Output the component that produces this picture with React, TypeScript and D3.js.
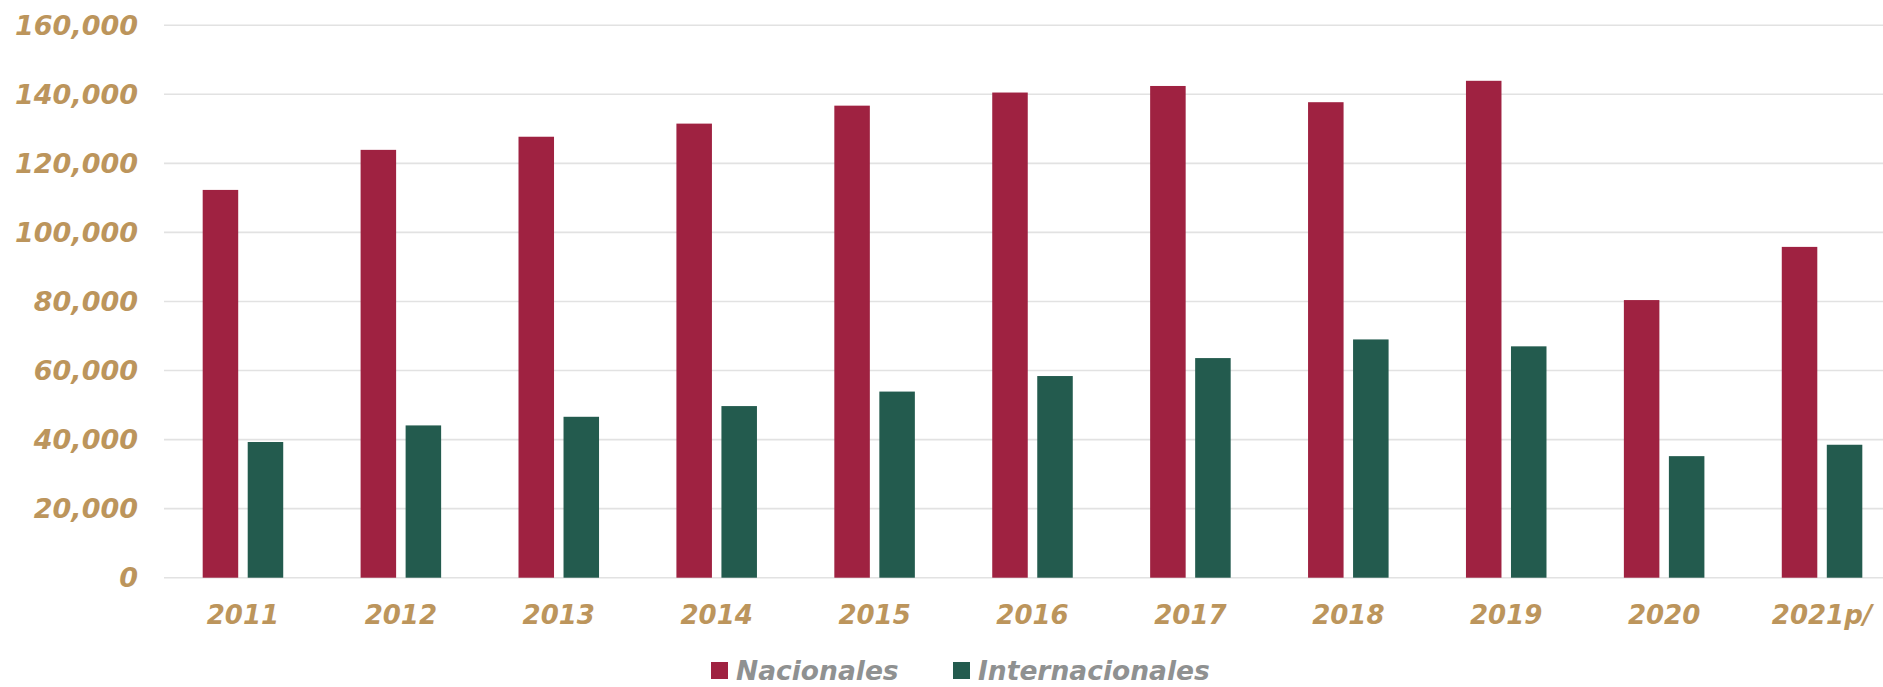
import React, { useEffect, useRef } from 'react';
import * as d3 from 'd3';

const years = ['2011', '2012', '2013', '2014', '2015', '2016', '2017', '2018', '2019', '2020', '2021p/'];
const nacionales = [112300, 123900, 127700, 131500, 136700, 140500, 142400, 137700, 143900, 80400, 95800];
const internacionales = [39300, 44100, 46600, 49700, 53900, 58400, 63600, 69000, 67000, 35200, 38500];
const seriesNames = ['Nacionales', 'Internacionales'];
const yTicks = [0, 20000, 40000, 60000, 80000, 100000, 120000, 140000, 160000];

const colors = ['#9F2241', '#235B4E'];
const gold = '#BC955C';
const grey = '#8F9191';
const font = '"DejaVu Sans", sans-serif';

const W = 1883;
const H = 687;

export default function App() {
  const ref = useRef<SVGSVGElement>(null);

  useEffect(() => {
    const svg = d3.select(ref.current);
    svg.selectAll('*').remove();

    const x0 = d3.scaleBand<string>()
      .domain(years)
      .range([164, 1901])
      .paddingInner(0.49)
      .paddingOuter(0.245);
    const x1 = d3.scaleBand<string>()
      .domain(seriesNames)
      .range([0, x0.bandwidth()])
      .paddingInner(0.211);
    const y = d3.scaleLinear().domain([0, 160000]).range([577.7, 25.2]);
    const color = d3.scaleOrdinal<string, string>().domain(seriesNames).range(colors);
    const fmt = d3.format(',');

    // grid lines
    svg.append('g')
      .selectAll('line')
      .data(yTicks)
      .enter()
      .append('line')
      .attr('x1', 164)
      .attr('x2', 1901)
      .attr('y1', d => y(d))
      .attr('y2', d => y(d))
      .attr('stroke', '#e2e2e2')
      .attr('stroke-width', 1.6);

    // y labels
    svg.append('g')
      .selectAll('text')
      .data(yTicks)
      .enter()
      .append('text')
      .attr('x', 138)
      .attr('y', d => y(d))
      .attr('dy', '0.36em')
      .attr('text-anchor', 'end')
      .attr('font-family', font)
      .attr('font-weight', 'bold')
      .attr('font-style', 'italic')
      .attr('font-size', 27)
      .attr('fill', gold)
      .text(d => fmt(d));

    // bars
    const rows = years.map((yr, i) => ({
      year: yr,
      values: [
        { key: seriesNames[0], value: nacionales[i] },
        { key: seriesNames[1], value: internacionales[i] },
      ],
    }));

    const groups = svg.append('g')
      .selectAll('g')
      .data(rows)
      .enter()
      .append('g')
      .attr('transform', d => `translate(${x0(d.year)},0)`);

    groups.selectAll('rect')
      .data(d => d.values)
      .enter()
      .append('rect')
      .attr('x', d => x1(d.key)!)
      .attr('width', x1.bandwidth())
      .attr('y', d => y(d.value))
      .attr('height', d => y(0) - y(d.value))
      .attr('fill', d => color(d.key));

    // x labels
    svg.append('g')
      .selectAll('text')
      .data(years)
      .enter()
      .append('text')
      .attr('x', d => x0(d)! + x0.bandwidth() / 2)
      .attr('y', 624)
      .attr('text-anchor', 'middle')
      .attr('font-family', font)
      .attr('font-weight', 'bold')
      .attr('font-style', 'italic')
      .attr('font-size', 26)
      .attr('fill', gold)
      .text(d => d);

    // legend
    const legendX = [711, 953];
    const legend = svg.append('g')
      .selectAll('g')
      .data(seriesNames)
      .enter()
      .append('g')
      .attr('transform', (d, i) => `translate(${legendX[i]},662)`);
    legend.append('rect')
      .attr('width', 17)
      .attr('height', 17)
      .attr('fill', d => color(d));
    legend.append('text')
      .attr('x', 25)
      .attr('y', 18)
      .attr('font-family', font)
      .attr('font-weight', 'bold')
      .attr('font-style', 'italic')
      .attr('font-size', 26.5)
      .attr('fill', grey)
      .text(d => d);
  }, []);

  return (
    <div style={{ position: 'absolute', left: 0, top: 0 }}>
      <svg ref={ref} width={W} height={H} style={{ display: 'block', background: '#fff' }} />
    </div>
  );
}
